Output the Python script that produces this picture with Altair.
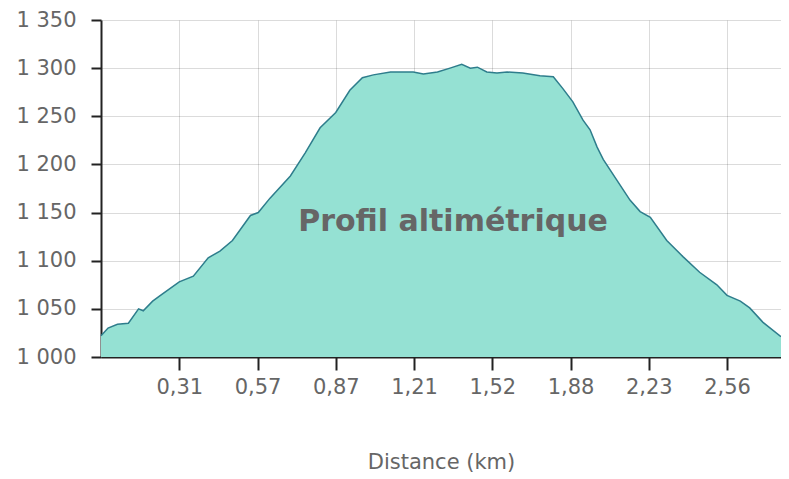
import altair as alt
import pandas as pd

# Position along the profile (in tick-interval units; tick k sits at position k)
position = [0.00, 0.09, 0.21, 0.35, 0.48, 0.54, 0.66, 0.76, 0.88, 1.00,
            1.18, 1.37, 1.52, 1.68, 1.91, 2.01, 2.16, 2.42, 2.61, 2.80,
            3.00, 3.18, 3.34, 3.48, 3.70, 3.99, 4.12, 4.30, 4.46, 4.61,
            4.72, 4.81, 4.93, 5.06, 5.19, 5.39, 5.61, 5.78, 5.90, 6.03,
            6.16, 6.25, 6.34, 6.42, 6.59, 6.76, 6.89, 7.02, 7.23, 7.44,
            7.65, 7.87, 8.00, 8.17, 8.29, 8.46, 8.69]
# Elevation (m)
elevation = [1022, 1030, 1034, 1035, 1050, 1048, 1058, 1064, 1071, 1078,
             1084, 1103, 1110, 1121, 1147, 1150, 1165, 1188, 1212, 1238,
             1254, 1277, 1290, 1293, 1296, 1296, 1294, 1296, 1300, 1304,
             1300, 1301, 1296, 1295, 1296, 1295, 1292, 1291, 1279, 1265,
             1246, 1236, 1218, 1205, 1184, 1163, 1151, 1145, 1121, 1104,
             1088, 1075, 1064, 1058, 1051, 1036, 1021]

tick_positions = [1, 2, 3, 4, 5, 6, 7, 8]
tick_labels = ["0,31", "0,57", "0,87", "1,21", "1,52", "1,88", "2,23", "2,56"]
y_ticks = [1000, 1050, 1100, 1150, 1200, 1250, 1300, 1350]
annotation = "Profil altimétrique"
x_title = "Distance (km)"
base_elevation = 1000

df = pd.DataFrame({"pos": position, "elev": elevation})

label_array = "[" + ",".join("'" + t + "'" for t in tick_labels) + "]"

x_enc = alt.X(
    "pos:Q",
    scale=alt.Scale(domain=[0, 8.69], nice=False, zero=False),
    axis=alt.Axis(
        values=tick_positions,
        labelExpr=label_array + "[datum.value - 1]",
        title=x_title,
        titleFontSize=21,
        titleFontWeight="normal",
        titleColor="#666666",
        titleFont="DejaVu Sans",
        titlePadding=54,
        labelFontSize=21,
        labelPadding=6,
        tickSize=13,
    ),
)
y_enc = alt.Y(
    "elev:Q",
    scale=alt.Scale(domain=[1000, 1350], nice=False, zero=False),
    axis=alt.Axis(
        values=y_ticks,
        labelExpr="replace(format(datum.value, ','), ',', ' ')",
        title=None,
        labelFontSize=21,
        labelPadding=15,
        tickSize=10,
    ),
)

area = alt.Chart(df).mark_area(
    color="#95e1d3",
    opacity=1,
    line={"color": "#2e7d8c", "strokeWidth": 1.5},
    interpolate="linear",
).encode(x=x_enc, y=y_enc, y2=alt.datum(base_elevation))

text = alt.Chart(pd.DataFrame({"t": [annotation]})).mark_text(
    font="DejaVu Sans",
    fontWeight="bold",
    fontSize=30,
    color="#666666",
    align="center",
    baseline="alphabetic",
).encode(text="t:N", x=alt.value(352), y=alt.value(211))

chart = (
    alt.layer(area, text)
    .properties(
        width=680,
        height=337,
        autosize=alt.AutoSizeParams(type="none"),
        padding={"left": 93, "top": 12, "right": 0, "bottom": 121},
    )
    .configure_view(stroke=None)
    .configure_axis(
        zindex=1,
        grid=True,
        gridColor="#000000",
        gridOpacity=0.14,
        gridWidth=1,
        domainColor="#222222",
        domainWidth=2,
        tickColor="#222222",
        tickWidth=2,
        labelColor="#666666",
        labelFont="DejaVu Sans",
    )
)

chart.save("out.html", embed_options={"renderer": "svg", "actions": False})
